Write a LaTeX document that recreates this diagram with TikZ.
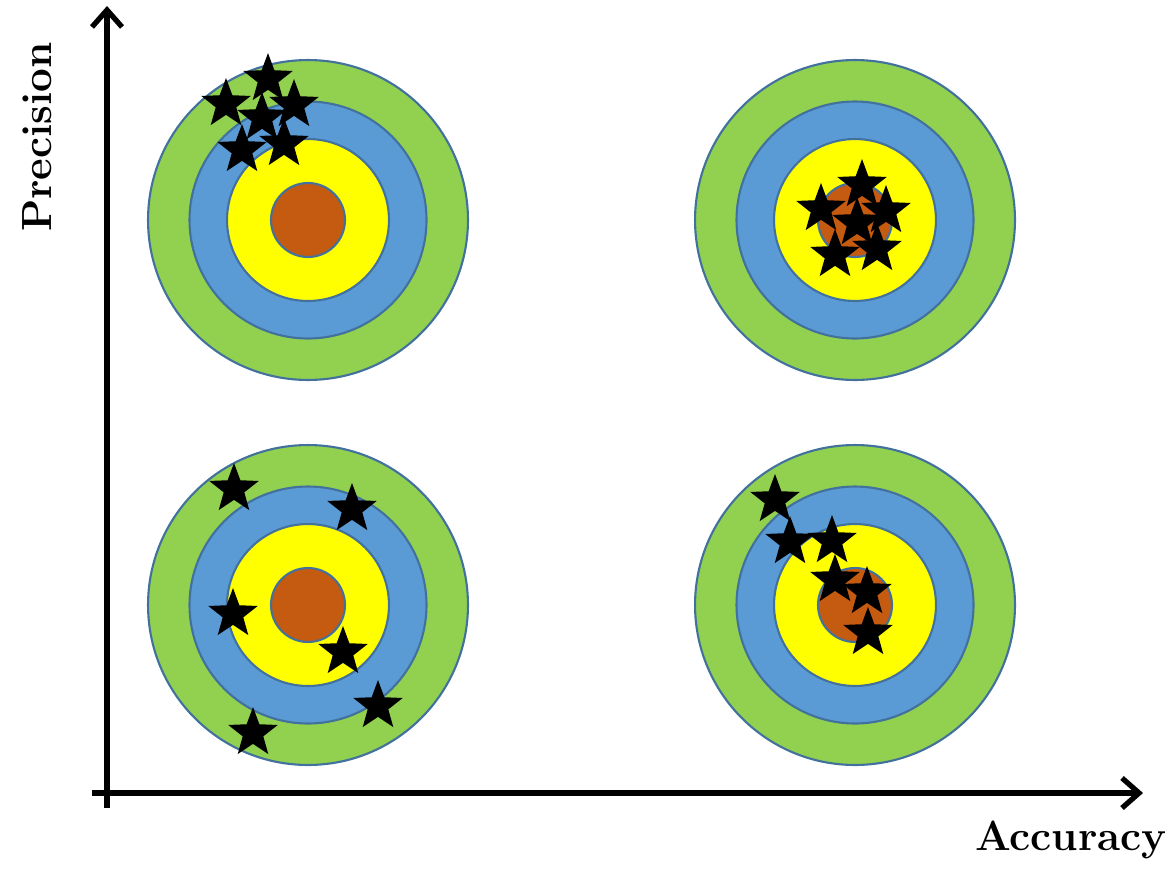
\documentclass[tikz,border=0pt]{standalone}
\usepackage{xcolor}
\usepackage{tikz}
\usetikzlibrary{arrows.meta,shapes.geometric}
\definecolor{ringgreen}{RGB}{146,208,80}
\definecolor{ringblue}{RGB}{91,155,213}
\definecolor{ringyellow}{RGB}{255,255,0}
\definecolor{ringorange}{RGB}{197,90,17}
\definecolor{ringline}{RGB}{65,113,156}

\begin{document}
\begin{tikzpicture}[
  x=0.02cm, y=-0.02cm,
  ring/.style={circle, draw=ringline, line width=1.2pt, inner sep=0pt},
  hit/.style={star, star points=5, star point ratio=2.4, fill=black, inner sep=0pt, minimum size=1.04cm},
  axis/.style={-{Straight Barb[length=3.4mm, width=6mm]}, line width=3pt},
  lbl/.style={font=\fontsize{24}{28}\selectfont\bfseries}
]
\useasboundingbox (0,0) rectangle (1168,869);

% the four targets
\foreach \name/\cx/\cy in {tl/308/220, tr/855/220, bl/308/605, br/855/605} {
  \node[ring, fill=ringgreen, minimum size=6.4cm] (\name-green) at (\cx,\cy) {};
  \node[ring, fill=ringblue, minimum size=4.74cm] (\name-blue) at (\cx,\cy) {};
  \node[ring, fill=ringyellow, minimum size=3.24cm] (\name-yellow) at (\cx,\cy) {};
  \node[ring, fill=ringorange, minimum size=1.48cm] (\name-bull) at (\cx,\cy) {};
}

% hits
\foreach \i/\sx/\sy in {1/268/79, 2/226/104, 3/294/105, 4/262/118, 5/242/150, 6/284/144} {
  \node[hit] (tl-hit\i) at (\sx,\sy) {};
}
\foreach \i/\sx/\sy in {1/862/185, 2/821/209, 3/886/211, 4/857/223, 5/835/255, 6/877/249} {
  \node[hit] (tr-hit\i) at (\sx,\sy) {};
}
\foreach \i/\sx/\sy in {1/234/489, 2/352/509, 3/233/614, 4/343/652, 5/378/706, 6/253/733} {
  \node[hit] (bl-hit\i) at (\sx,\sy) {};
}
\foreach \i/\sx/\sy in {1/775/500, 2/790/542, 3/832/541, 4/835/580, 5/867/592, 6/868/633} {
  \node[hit] (br-hit\i) at (\sx,\sy) {};
}

% axes
\coordinate (ybase) at (107,808);
\coordinate (ytip) at (107,6);
\coordinate (xbase) at (92,793);
\coordinate (xtip) at (1143,793);
\draw[axis] (ybase) -- (ytip);
\draw[axis] (xbase) -- (xtip);

\node[lbl, rotate=90] (precision) at (37,137) {Precision};
\node[lbl] (accuracy) at (1071,840) {Accuracy};

\end{tikzpicture}
\end{document}
